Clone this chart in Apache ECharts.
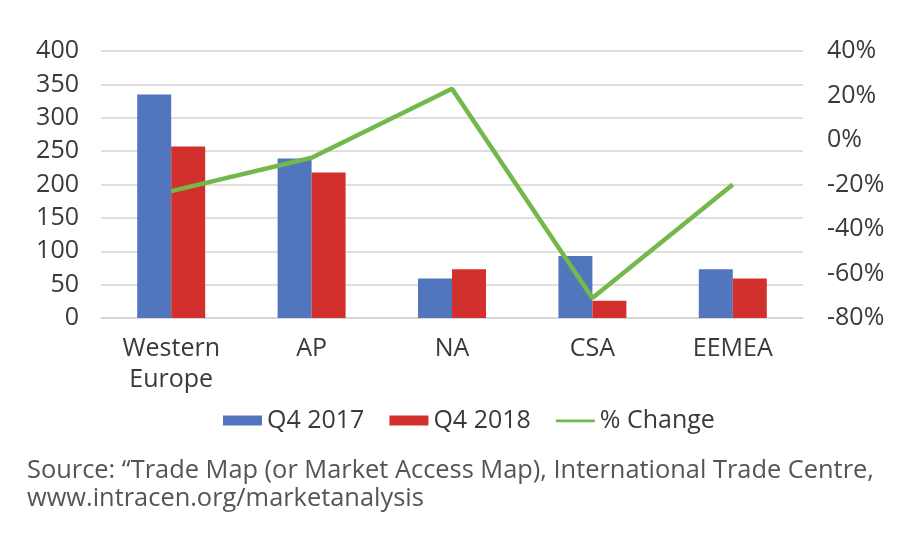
<!DOCTYPE html>
<html>
<head>
<meta charset="utf-8">
<script src="https://cdn.jsdelivr.net/npm/echarts@6/dist/echarts.min.js"></script>
<style>
  html, body { margin: 0; padding: 0; background: #fff; }
  #chart { width: 900px; height: 550px; }
</style>
</head>
<body>
<div id="chart"></div>
<script>
// regions on the x axis
const categories = ['Western\nEurope', 'AP', 'NA', 'CSA', 'EEMEA'];
const q42017 = [335, 239, 59, 93, 73];
const q42018 = [257, 218, 73, 26, 59];
// percent change, right axis
const pctChange = [-23, -8, 23, -71, -20];

const sourceText = 'Source: \u201cTrade Map (or Market Access Map), International Trade Centre,\nwww.intracen.org/marketanalysis';

const font = 'Open Sans';
const textColor = '#3a3a3a';
const gridColor = '#d4d4d4';

const chart = echarts.init(document.getElementById('chart'));

const option = {
    backgroundColor: '#fff',
    animation: false,
    textStyle: { fontFamily: font },
    title: {
        text: sourceText,
        left: 22,
        top: 452,
        textStyle: {
            fontFamily: font,
            fontSize: 25.4,
            fontWeight: 'normal',
            color: '#555',
            lineHeight: 28
        }
    },
    grid: {
        left: 101,
        right: 97,
        top: 51,
        bottom: 232
    },
    legend: {
        top: 403,
        left: 218,
        itemWidth: 39,
        itemHeight: 10,
        itemGap: 25,
        textStyle: { fontFamily: font, fontSize: 25, color: textColor },
        data: [
            { name: 'Q4 2017', icon: 'rect' },
            { name: 'Q4 2018', icon: 'rect' },
            { name: '% Change', icon: 'path://M0,0 M0,4 L40,4 L40,6.8 L0,6.8 Z M40,10' }
        ]
    },
    xAxis: {
        type: 'category',
        data: categories,
        axisLine: { lineStyle: { color: gridColor, width: 1.5 } },
        axisTick: { show: false },
        axisLabel: {
            margin: 15,
            fontSize: 25,
            lineHeight: 31,
            color: textColor,
            interval: 0
        }
    },
    yAxis: [
        {
            type: 'value',
            min: 0,
            max: 400,
            interval: 50,
            axisLine: { show: false },
            axisTick: { show: false },
            splitLine: { lineStyle: { color: gridColor, width: 1.5 } },
            axisLabel: { fontSize: 25, color: textColor, margin: 22 }
        },
        {
            type: 'value',
            min: -80,
            max: 40,
            interval: 20,
            axisLine: { show: false },
            axisTick: { show: false },
            splitLine: { show: false },
            axisLabel: { fontSize: 25, color: textColor, margin: 24, formatter: '{value}%' }
        }
    ],
    series: [
        {
            name: 'Q4 2017',
            type: 'bar',
            data: q42017,
            barWidth: 34,
            barGap: '0%',
            itemStyle: { color: '#5276bd' }
        },
        {
            name: 'Q4 2018',
            type: 'bar',
            data: q42018,
            barWidth: 34,
            barGap: '0%',
            itemStyle: { color: '#d2302c' }
        },
        {
            name: '% Change',
            type: 'line',
            yAxisIndex: 1,
            data: pctChange,
            symbol: 'none',
            lineStyle: { color: '#73b84a', width: 4.5 },
            itemStyle: { color: '#73b84a' }
        }
    ]
};

chart.setOption(option);
</script>
</body>
</html>
